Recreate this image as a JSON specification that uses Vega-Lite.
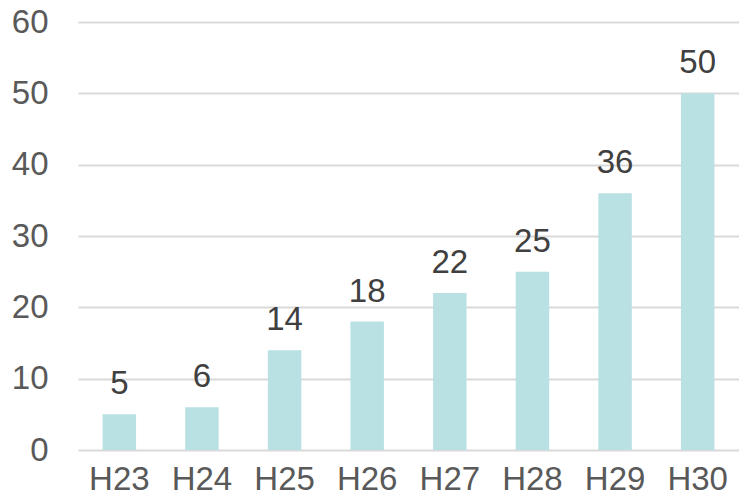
{
  "$schema": "https://vega.github.io/schema/vega-lite/v6.json",
  "width": 661,
  "height": 428,
  "autosize": {"type": "none"},
  "padding": {"left": 78, "top": 22, "right": 0, "bottom": 52},
  "background": "white",
  "config": {"view": {"stroke": null}, "font": "Liberation Sans"},
  "data": {"values": [
    {"year": "H23", "value": 5},
    {"year": "H24", "value": 6},
    {"year": "H25", "value": 14},
    {"year": "H26", "value": 18},
    {"year": "H27", "value": 22},
    {"year": "H28", "value": 25},
    {"year": "H29", "value": 36},
    {"year": "H30", "value": 50}
  ]},
  "encoding": {
    "x": {"field": "year", "type": "ordinal", "sort": null,
      "scale": {"paddingInner": 0.595, "paddingOuter": 0.2975},
      "axis": {"title": null, "domain": false, "ticks": false, "labelAngle": 0,
        "labelFontSize": 33, "labelColor": "#595959", "labelPadding": 13, "labelFont": "Liberation Sans"}},
    "y": {"field": "value", "type": "quantitative",
      "scale": {"domain": [0, 60], "nice": false},
      "axis": {"title": null, "domain": false, "ticks": false, "values": [0,10,20,30,40,50,60],
        "gridColor": "#d9d9d9", "gridWidth": 2, "labelFontSize": 33, "labelColor": "#595959",
        "labelPadding": 30, "labelFont": "Liberation Sans"}}
  },
  "layer": [
    {"mark": {"type": "bar", "color": "#b9e0e3"}},
    {"mark": {"type": "text", "baseline": "alphabetic", "dy": -20, "fontSize": 33, "color": "#404040", "font": "Liberation Sans"},
     "encoding": {"text": {"field": "value", "type": "quantitative"}}}
  ]
}
